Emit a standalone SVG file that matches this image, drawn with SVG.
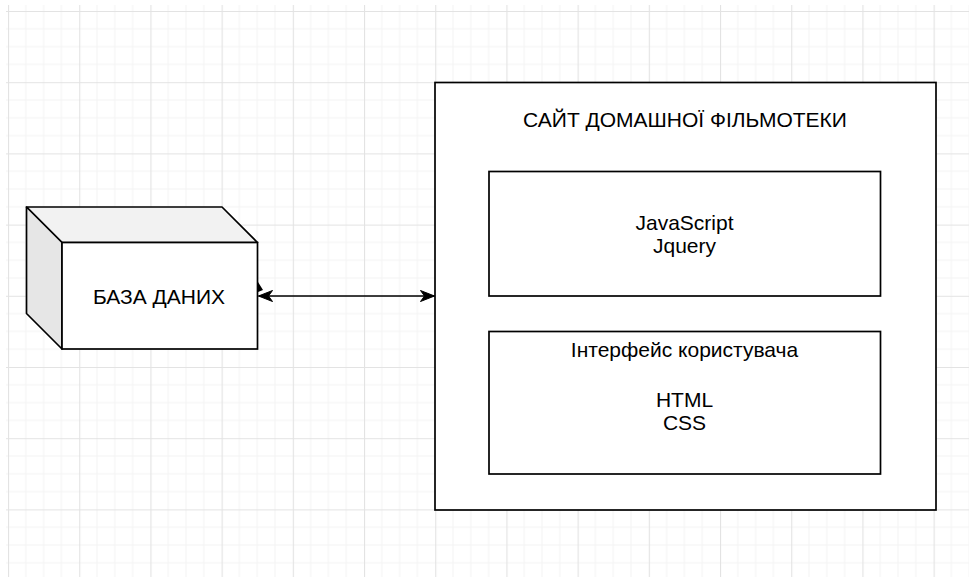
<svg xmlns="http://www.w3.org/2000/svg" width="969" height="577" viewBox="0 0 969 577">
  <defs>
    <pattern id="grid" x="8" y="11" width="71.2" height="71.2" patternUnits="userSpaceOnUse">
      <path d="M17.8,0V71.2M35.6,0V71.2M53.4,0V71.2M0,17.8H71.2M0,35.6H71.2M0,53.4H71.2" stroke="#f3f3f3" stroke-width="1" fill="none"/>
      <path d="M0.5,0V71.2M0,0.5H71.2" stroke="#e3e3e3" stroke-width="1.2" fill="none"/>
    </pattern>
    <marker id="arr" viewBox="-15 -7 16 14" markerWidth="16" markerHeight="14" refX="0" refY="0" orient="auto-start-reverse" markerUnits="userSpaceOnUse">
      <path d="M0,0 L-14,-5.5 L-10,0 L-14,5.5 Z" fill="#000" stroke="#000" stroke-width="1"/>
    </marker>
    <style>
      .box { fill: #fff; stroke: #000; stroke-width: 1.7; }
      .edge { fill: none; stroke: #000; stroke-width: 1.7; }
      .lbl { font-family: "Liberation Sans", Arial, sans-serif; font-size: 21px; fill: #000; text-anchor: middle; }
    </style>
  </defs>

  <rect x="0" y="0" width="969" height="577" fill="#fff"/>
  <rect x="6" y="5" width="963" height="572" fill="url(#grid)"/>

  <g id="db">
    <polygon points="26.5,207 222,207 257.5,242.5 62,242.5" fill="#f2f2f2" stroke="#000" stroke-width="1.7" stroke-linejoin="round"/>
    <polygon points="26.5,207 62,242.5 62,349 26.5,313.5" fill="#e6e6e6" stroke="#000" stroke-width="1.7" stroke-linejoin="round"/>
    <rect class="box" x="62" y="242.5" width="195.5" height="106.5"/>
    <text class="lbl" x="159" y="304">БАЗА ДАНИХ</text>
  </g>

  <g id="site">
    <rect class="box" x="435" y="82.5" width="501" height="427.5"/>
    <text class="lbl" x="685" y="127">САЙТ ДОМАШНОЇ ФІЛЬМОТЕКИ</text>
  </g>

  <g id="js">
    <rect class="box" x="489" y="171.5" width="391.5" height="124.5"/>
    <text class="lbl" x="684.5" y="229.5">JavaScript</text>
    <text class="lbl" x="684.5" y="252.5">Jquery</text>
  </g>

  <g id="ui">
    <rect class="box" x="489" y="331.5" width="391.5" height="142.5"/>
    <text class="lbl" x="684.5" y="356.5">Інтерфейс користувача</text>
    <text class="lbl" x="684.5" y="407">HTML</text>
    <text class="lbl" x="684.5" y="430">CSS</text>
  </g>

  <g id="connectors">
    <line class="edge" x1="258.5" y1="296" x2="434.5" y2="296" marker-start="url(#arr)" marker-end="url(#arr)"/>
    <path d="M258,282 L263,290 L258,292 Z" fill="#000"/>
  </g>
</svg>
